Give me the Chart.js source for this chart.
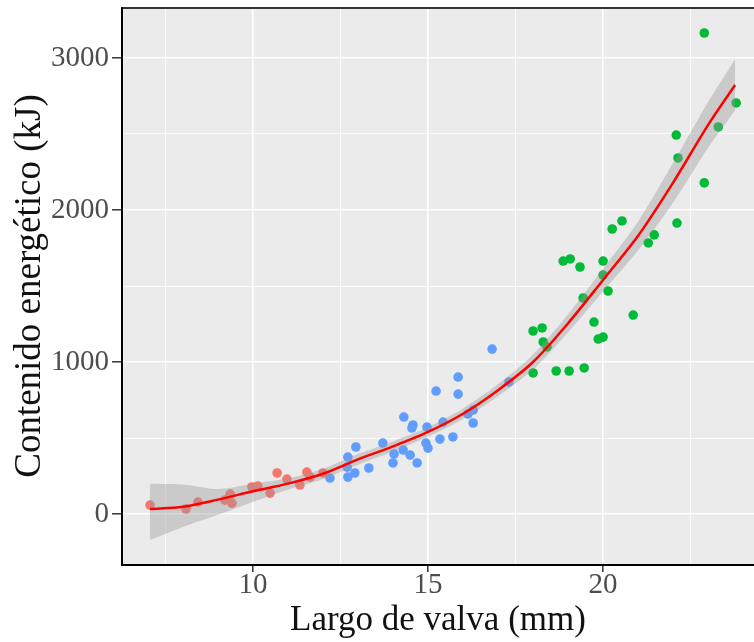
<!DOCTYPE html>
<html>
<head>
<meta charset="utf-8">
<script src="https://cdn.jsdelivr.net/npm/chart.js@4"></script>
<style>
  html, body { margin: 0; padding: 0; background: #ffffff; }
  #wrap { width: 754px; height: 642px; }
</style>
</head>
<body>
<div id="wrap"><canvas id="energyChart" width="754" height="642"></canvas></div>
<script>
// shell length (mm) vs energy content (kJ)
const smallX = [7.06, 8.09, 8.43, 9.2, 9.35, 9.4, 9.3, 9.97, 10.14, 10.49, 10.69, 10.97, 11.34, 11.54, 11.63, 12.0];
const smallY = [59, 33, 79, 92, 131, 72, 105, 178, 184, 138, 270, 230, 191, 276, 243, 270];

const midX = [16.83, 15.86, 15.23, 15.86, 14.31, 14.57, 14.54, 14.97, 15.43, 16.29, 16.14, 16.29, 15.34, 15.71,
              14.94, 15.0, 13.71, 12.94, 14.03, 14.29, 14.49, 14.69, 13.31, 12.71, 12.69, 12.91, 12.71, 12.2, 17.31, 14.0];
const midY = [1085, 901, 809, 789, 638, 586, 566, 572, 605, 684, 658, 599, 493, 507,
              467, 434, 467, 441, 395, 421, 388, 336, 303, 375, 309, 270, 243, 237, 868, 336];

const largeX = [18.0, 18.66, 19.03, 19.46, 18.0, 18.26, 18.29, 18.4, 19.74, 19.86, 20.0, 20.26, 20.54, 22.11, 21.46,
                21.29, 18.86, 19.06, 19.34, 20.0, 20.0, 20.14, 19.43, 20.86, 22.89, 23.8, 23.29, 22.09, 22.14, 22.89];
const largeY = [928, 941, 941, 961, 1204, 1224, 1132, 1099, 1263, 1151, 1164, 1875, 1928, 1914, 1836,
                1783, 1664, 1678, 1625, 1664, 1572, 1467, 1421, 1309, 3164, 2704, 2546, 2493, 2342, 2178];

// fitted curve and its confidence band, read at these lengths
const fitX     = [7.06, 8, 9, 10, 11, 12, 13, 14, 15, 16, 17, 18, 19, 20, 21, 22, 23, 23.77];
const fitY     = [33, 48, 95, 150, 200, 265, 360, 445, 540, 660, 815, 1000, 1255, 1540, 1830, 2180, 2560, 2822];
const bandHigh = [200, 195, 165, 200, 235, 298, 395, 478, 572, 695, 855, 1050, 1315, 1615, 1925, 2310, 2710, 2990];
const bandLow  = [-171, -85, -5, 80, 160, 230, 325, 412, 508, 625, 775, 950, 1195, 1465, 1735, 2050, 2410, 2655];

const xTicks = [7.5, 10, 12.5, 15, 17.5, 20, 22.5];
const yTicks = [0, 500, 1000, 1500, 2000, 2500, 3000];

const pts = (xs, ys) => xs.map((x, i) => ({ x: x, y: ys[i] }));

const panelBg = {
  id: "panelBg",
  beforeDraw(chart) {
    const a = chart.chartArea, c = chart.ctx;
    c.save();
    c.fillStyle = "#EBEBEB";
    c.fillRect(a.left, a.top, a.right - a.left, a.bottom - a.top);
    c.restore();
  },
  afterDraw(chart) {
    const a = chart.chartArea, c = chart.ctx;
    c.save();
    c.strokeStyle = "#333333";
    c.lineWidth = 2;
    c.beginPath();
    c.moveTo(a.left, a.top + 1);
    c.lineTo(a.right, a.top + 1);
    c.stroke();
    c.strokeStyle = "#000000";
    c.beginPath();
    c.moveTo(a.left, a.top);
    c.lineTo(a.left, a.bottom);
    c.lineTo(a.right, a.bottom);
    c.stroke();
    c.restore();
  }
};

const isMajorX = v => v % 5 === 0;
const isMajorY = v => v % 1000 === 0;

const tickFont = { family: "'Liberation Serif', 'DejaVu Serif', serif", size: 29 };
const titleFont = { family: "'Liberation Serif', 'DejaVu Serif', serif", size: 35 };

const config = {
  type: "scatter",
  data: {
    datasets: [
      {
        type: "line",
        data: pts(fitX, fitY),
        borderColor: "#FF0000",
        borderWidth: 2.5,
        pointRadius: 0,
        fill: false,
        tension: 0.3,
        order: 0
      },
      {
        type: "line",
        data: pts(fitX, bandHigh),
        borderWidth: 0,
        borderColor: "rgba(0,0,0,0)",
        backgroundColor: "rgba(153,153,153,0.4)",
        pointRadius: 0,
        fill: "+1",
        tension: 0.3,
        order: 1
      },
      {
        type: "line",
        data: pts(fitX, bandLow),
        borderWidth: 0,
        borderColor: "rgba(0,0,0,0)",
        pointRadius: 0,
        fill: false,
        tension: 0.3,
        order: 2
      },
      { data: pts(smallX, smallY), backgroundColor: "#F8766D", borderWidth: 0, pointRadius: 4.8, order: 3 },
      { data: pts(midX, midY), backgroundColor: "#619CFF", borderWidth: 0, pointRadius: 4.8, order: 3 },
      { data: pts(largeX, largeY), backgroundColor: "#00BA38", borderWidth: 0, pointRadius: 4.8, order: 3 }
    ]
  },
  options: {
    responsive: false,
    animation: false,
    layout: { autoPadding: false, padding: { left: 0, right: 0, top: 7, bottom: 0 } },
    plugins: {
      legend: { display: false },
      tooltip: { enabled: false }
    },
    scales: {
      x: {
        type: "linear",
        min: 6.26,
        max: 24.31,
        afterBuildTicks: s => { s.ticks = xTicks.map(v => ({ value: v })); },
        afterFit: s => { s.height = 77; s.paddingLeft = 0; s.paddingRight = 0; },
        grid: {
          color: "#FFFFFF",
          lineWidth: ctx => (ctx.tick && isMajorX(ctx.tick.value)) ? 1.6 : 0.8,
          tickColor: ctx => (ctx.tick && isMajorX(ctx.tick.value)) ? "#333333" : "rgba(0,0,0,0)",
          tickLength: 7,
          tickWidth: 1.5
        },
        border: { display: false },
        ticks: {
          color: "#4D4D4D",
          font: tickFont,
          padding: -4,
          maxRotation: 0,
          autoSkip: false,
          callback: v => isMajorX(v) ? String(v) : ""
        },
        title: {
          display: true,
          text: "Largo de valva (mm)",
          color: "#111111",
          font: titleFont,
          padding: { top: 0, bottom: 0 }
        }
      },
      y: {
        min: -335,
        max: 3335,
        afterBuildTicks: s => { s.ticks = yTicks.map(v => ({ value: v })); },
        afterFit: s => { s.width = 122; s.paddingTop = 0; s.paddingBottom = 0; },
        grid: {
          color: "#FFFFFF",
          lineWidth: ctx => (ctx.tick && isMajorY(ctx.tick.value)) ? 1.6 : 0.8,
          tickColor: ctx => (ctx.tick && isMajorY(ctx.tick.value)) ? "#333333" : "rgba(0,0,0,0)",
          tickLength: 10,
          tickWidth: 1.5
        },
        border: { display: false },
        ticks: {
          color: "#4D4D4D",
          font: tickFont,
          padding: 3,
          autoSkip: false,
          callback: v => isMajorY(v) ? String(v) : ""
        },
        title: {
          display: true,
          text: "Contenido energético (kJ)",
          color: "#111111",
          font: { family: "'Liberation Serif', 'DejaVu Serif', serif", size: 37 },
          padding: { top: 8, bottom: 0 }
        }
      }
    }
  },
  plugins: [panelBg]
};

const ctx = document.getElementById("energyChart");
window.energyChart = new Chart(ctx, config);
</script>
</body>
</html>
